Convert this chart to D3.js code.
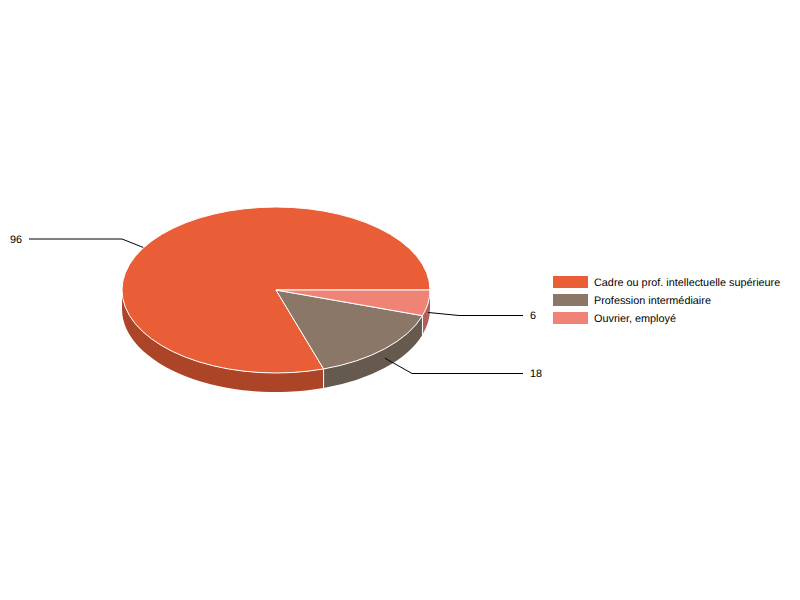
<!DOCTYPE html>
<html>
<head>
<meta charset="utf-8">
<script src="https://cdn.jsdelivr.net/npm/d3@7"></script>
<style>
  html, body { margin: 0; padding: 0; background: #fff; }
  text { font-family: "Liberation Sans", Arial, sans-serif; font-size: 10.85px; fill: #000; text-rendering: geometricPrecision; }
</style>
</head>
<body>
<div id="chart"></div>
<script>
// Data
const categories = ["Cadre ou prof. intellectuelle supérieure", "Profession intermédiaire", "Ouvrier, employé"];
const values = [96, 18, 6];
const topColors = ["#ea5e37", "#8a7768", "#ef8376"];
const sideColors = ["#ac4427", "#665a4f", "#b0605a"];

// Chart dimensions
const width = 800;
const height = 600;
const cx = 276;
const cy = 290;
const rx = 154;
const ry = 83;
const depth = 19;

// Where each label line bends and ends
const elbows = [[122, 239], [412, 373.5], [459, 315.5]];
const labelEnds = [29, 523, 523];

const svg = d3.select("#chart").append("svg")
  .attr("width", width)
  .attr("height", height)
  .style("display", "block")
  .style("opacity", 0.999);

// Slices run counter-clockwise from 3 o'clock
const pie = d3.pie().sort(null)
  .startAngle(Math.PI * 2)
  .endAngle(0);
const slices = pie(values).map((d, i) => {
  // angle measured clockwise on screen from 3 o'clock
  const a0 = Math.PI * 2 - d.startAngle;
  const a1 = Math.PI * 2 - d.endAngle;
  return { i, from: Math.PI * 2 - a1, to: Math.PI * 2 - a0, value: d.value };
});

const px = a => cx + rx * Math.cos(a);
const py = a => cy + ry * Math.sin(a);

function topPath(s) {
  const large = s.to - s.from > Math.PI ? 1 : 0;
  return `M${cx},${cy}L${px(s.from)},${py(s.from)}A${rx},${ry} 0 ${large} 1 ${px(s.to)},${py(s.to)}Z`;
}

function wallPath(s) {
  // only the front half of the rim shows
  const a0 = Math.max(s.from, 0);
  const a1 = Math.min(s.to, Math.PI);
  if (a1 <= a0) return null;
  return `M${px(a0)},${py(a0)}A${rx},${ry} 0 0 1 ${px(a1)},${py(a1)}` +
    `L${px(a1)},${py(a1) + depth}A${rx},${ry} 0 0 0 ${px(a0)},${py(a0) + depth}Z`;
}

const leader = s => {
  const mid = (s.from + s.to) / 2;
  const e = elbows[s.i];
  return d3.line()([[px(mid), py(mid) + depth / 2], e, [labelEnds[s.i], e[1]]]);
};
const isBack = s => Math.sin((s.from + s.to) / 2) < 0;

// Label lines behind the pie
svg.append("g").selectAll("path")
  .data(slices.filter(isBack))
  .enter().append("path")
  .attr("d", leader)
  .attr("fill", "none")
  .attr("stroke", "#000")
  .attr("stroke-width", 1);

// Walls
svg.append("g").selectAll("path")
  .data(slices.filter(s => wallPath(s)))
  .enter().append("path")
  .attr("d", wallPath)
  .attr("fill", s => sideColors[s.i]);

// White edges between the walls
svg.append("g").selectAll("line")
  .data(slices.filter(s => s.to > 0 && s.to < Math.PI))
  .enter().append("line")
  .attr("x1", s => px(s.to))
  .attr("x2", s => px(s.to))
  .attr("y1", s => py(s.to))
  .attr("y2", s => py(s.to) + depth)
  .attr("stroke", "#fff")
  .attr("stroke-width", 1);

// Top of the pie
svg.append("g").selectAll("path")
  .data(slices)
  .enter().append("path")
  .attr("d", topPath)
  .attr("fill", s => topColors[s.i])
  .attr("stroke", "#fff")
  .attr("stroke-width", 1)
  .attr("stroke-linejoin", "round");

// Label lines in front
svg.append("g").selectAll("path")
  .data(slices.filter(s => !isBack(s)))
  .enter().append("path")
  .attr("d", leader)
  .attr("fill", "none")
  .attr("stroke", "#000")
  .attr("stroke-width", 1);

// Value labels
svg.append("g").selectAll("text")
  .data(slices)
  .enter().append("text")
  .attr("x", s => s.i === 0 ? 22 : 530)
  .attr("y", s => Math.floor(elbows[s.i][1]) + 4)
  .attr("text-anchor", s => s.i === 0 ? "end" : "start")
  .text(s => s.value);

// Legend
const legendY = d3.scalePoint().domain(categories).range([276, 312]);
const legend = svg.append("g").selectAll("g")
  .data(categories)
  .enter().append("g")
  .attr("transform", d => `translate(553, ${legendY(d)})`);

legend.append("rect")
  .attr("width", 35)
  .attr("height", 12)
  .attr("fill", (d, i) => topColors[i]);

legend.append("text")
  .attr("x", 41)
  .attr("y", 10)
  .text(d => d);
</script>
</body>
</html>
